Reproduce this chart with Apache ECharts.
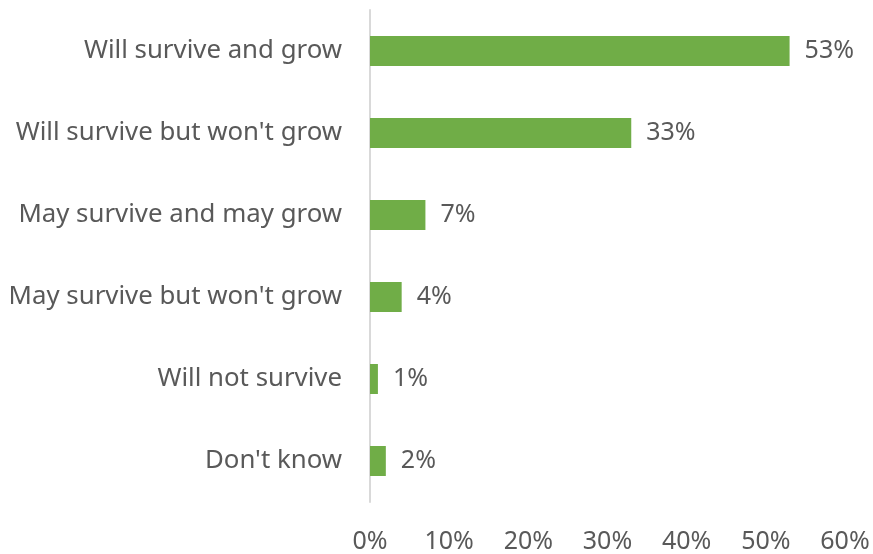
<!DOCTYPE html>
<html>
<head>
<meta charset="utf-8">
<script src="https://cdn.jsdelivr.net/npm/echarts@6/dist/echarts.min.js"></script>
<style>
  html, body { margin: 0; padding: 0; background: #fff; }
  #chart { width: 873px; height: 554px; }
</style>
</head>
<body>
<div id="chart"></div>
<script>
const categories = [
  'Will survive and grow',
  "Will survive but won't grow",
  'May survive and may grow',
  "May survive but won't grow",
  'Will not survive',
  "Don't know"
];
const shares = [53, 33, 7, 4, 1, 2];
const tickMin = 0;
const tickMax = 60;
const tickStep = 10;

const textColor = '#595959';
const fontFamily = '"Noto Sans", "Open Sans", sans-serif';
const fontSize = 25.8;

const chart = echarts.init(document.getElementById('chart'), null, { renderer: 'canvas' });
chart.setOption({
  animation: false,
  backgroundColor: '#ffffff',
  grid: { left: 370, right: 28, top: 10, bottom: 52, containLabel: false },
  xAxis: {
    type: 'value',
    min: tickMin,
    max: tickMax,
    interval: tickStep,
    axisLine: { show: false },
    axisTick: { show: false },
    splitLine: { show: false },
    axisLabel: {
      formatter: '{value}%',
      color: textColor,
      fontFamily: fontFamily,
      fontSize: 25,
      margin: 27
    }
  },
  yAxis: {
    type: 'category',
    data: categories,
    inverse: true,
    axisLine: { show: true, lineStyle: { color: '#D9D9D9', width: 2 } },
    axisTick: { show: false },
    splitLine: { show: false },
    axisLabel: {
      color: textColor,
      fontFamily: fontFamily,
      fontSize: fontSize,
      margin: 28,
      padding: [4, 0, 0, 0]
    }
  },
  series: [{
    type: 'bar',
    data: shares,
    barWidth: 30,
    itemStyle: { color: '#70AD47' },
    label: {
      show: true,
      position: 'right',
      distance: 15,
      formatter: '{c}%',
      color: textColor,
      fontFamily: fontFamily,
      fontSize: 25,
      padding: [4, 0, 0, 0]
    }
  }]
});
</script>
</body>
</html>
